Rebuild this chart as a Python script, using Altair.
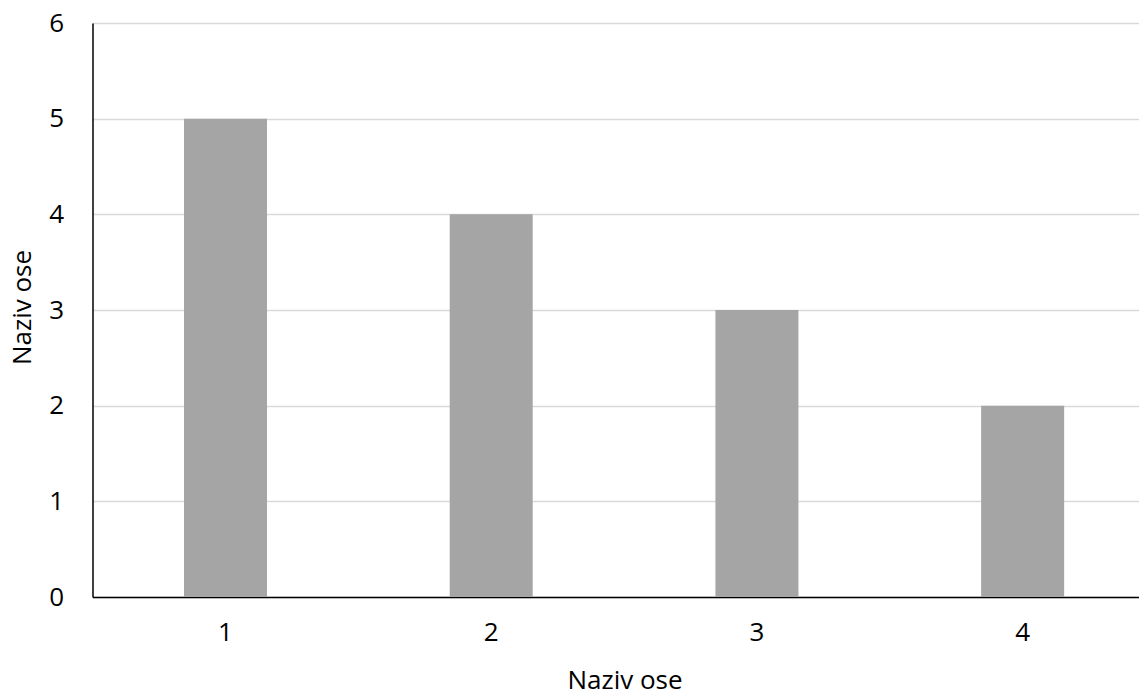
import altair as alt
import pandas as pd

categories = ["1", "2", "3", "4"]
values = [5, 4, 3, 2]
y_ticks = [0, 1, 2, 3, 4, 5, 6]

df = pd.DataFrame({"cat": categories, "val": values})

FONT = "Open Sans"
FS = 26

chart = alt.Chart(df).mark_bar(color="#a5a5a5").encode(
    x=alt.X(
        "cat:N",
        sort=None,
        scale=alt.Scale(paddingInner=0.6876, paddingOuter=0.313, align=0.55),
        axis=alt.Axis(
            title="Naziv ose",
            labelAngle=0,
            ticks=False,
            grid=False,
            domainColor="#000000",
            domainWidth=1.5,
            labelPadding=22,
            titlePadding=22,
            titleX=532,
            labelFontSize=FS,
            titleFontSize=FS,
            labelFont=FONT,
            titleFont=FONT,
            labelColor="#000000",
            titleColor="#000000",
            titleFontWeight="normal",
        ),
    ),
    y=alt.Y(
        "val:Q",
        scale=alt.Scale(domain=[0, 6], nice=False),
        axis=alt.Axis(
            title="Naziv ose",
            values=y_ticks,
            ticks=False,
            grid=True,
            gridColor="#d9d9d9",
            gridWidth=1.5,
            domainColor="#000000",
            domainWidth=1.5,
            labelPadding=29,
            titlePadding=13,
            titleY=284,
            labelFontSize=FS,
            titleFontSize=FS,
            labelFont=FONT,
            titleFont=FONT,
            labelColor="#000000",
            titleColor="#000000",
            titleFontWeight="normal",
        ),
    ),
).properties(
    width=1046.5,
    height=574,
    padding={"left": 84.5, "top": 15, "right": 0, "bottom": 98},
    autosize="none",
).configure_view(stroke=None)

chart.save("out.html", embed_options={"renderer": "svg", "actions": False})
